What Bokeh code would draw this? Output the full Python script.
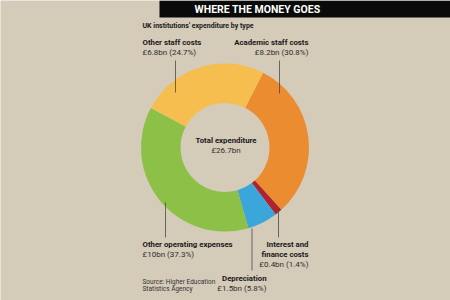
import math
from bokeh.plotting import figure
from bokeh.models import Range1d, ColumnDataSource
from bokeh.core.properties import value
from bokeh.embed import file_html
from bokeh.resources import INLINE

# ---- data ----
categories = ["Academic staff costs", "Interest and finance costs", "Depreciation",
              "Other operating expenses", "Other staff costs"]
amounts_bn = [8.2, 0.4, 1.5, 10.0, 6.8]
percents = [30.8, 1.4, 5.8, 37.3, 24.7]
colors = ["#EB8C30", "#AE2330", "#3BA6DA", "#8CC046", "#F6BE4E"]
total_label = "£26.7bn"

W, H = 450, 300
BG = "#D4CBB9"
FONT = "Roboto"
TXT = "#1A1A1A"
TXT2 = "#2E2E2E"

p = figure(width=W, height=H, x_range=Range1d(0, W), y_range=Range1d(0, H),
           output_backend="svg", toolbar_location=None, min_border=0)
p.axis.visible = False
p.grid.visible = False
p.outline_line_color = None
p.background_fill_color = BG
p.border_fill_color = BG

def sy(y):
    return H - y

# donut
cx, cy = 224.5, sy(147)
r_out, r_in = 84, 44.5
start0 = 63.0  # degrees, first slice boundary
starts, ends = [], []
cum = 0.0
for pc in percents:
    starts.append(math.radians(start0 - cum * 3.6))
    cum += pc
    ends.append(math.radians(start0 - cum * 3.6))
src = ColumnDataSource(dict(start=starts, end=ends, color=colors, cat=categories))
p.annular_wedge(x=cx, y=cy, inner_radius=r_in, outer_radius=r_out,
                start_angle="start", end_angle="end", direction="clock",
                fill_color="color", line_color=None, source=src)

# title bar
p.quad(left=159, right=450, top=sy(0), bottom=sy(17), fill_color="#0A0A0A", line_color=None)
p.text(x=[257], y=[sy(8.5)], text=["WHERE THE MONEY GOES"], text_color="white",
       text_font=value(FONT), text_font_style="bold", text_font_size="10.5px",
       text_align="center", text_baseline="middle")

def label(x, y, s, bold=False, align="left", size="8px", color=TXT):
    p.text(x=[x], y=[sy(y)], text=[s], text_color=color, text_font=value(FONT),
           text_font_style="bold" if bold else "normal", text_font_size=size,
           text_align=align, text_baseline="middle")

def fmt(i):
    a = amounts_bn[i]
    s = ("%g" % a) if a == int(a) else ("%.1f" % a)
    return "£%sbn (%.1f%%)" % (s, percents[i])

label(142, 25, "UK institutions' expenditure by type", bold=True, size="7px")

B = "7.8px"
R = "8px"
# Other staff costs
label(142, 41.5, categories[4], bold=True, size=B)
label(142, 51.5, fmt(4), size=R, color=TXT2)
# Academic staff costs
label(308, 41.5, categories[0], bold=True, align="right", size=B)
label(308, 51.5, fmt(0), align="right", size=R, color=TXT2)
# Other operating expenses
label(142, 243.5, categories[3], bold=True, size=B)
label(142, 253.5, fmt(3), size=R, color=TXT2)
# Interest and finance costs
label(308, 243.5, "Interest and", bold=True, align="right", size=B)
label(308, 253.5, "finance costs", bold=True, align="right", size=B)
label(308, 263.5, fmt(1), align="right", size=R, color=TXT2)
# Depreciation
label(266, 278, categories[2], bold=True, align="right", size=B)
label(266, 287.5, fmt(2), align="right", size=R, color=TXT2)
# Source
label(142, 281.5, "Source: Higher Education", size="6.5px", color="#333333")
label(142, 288.5, "Statistics Agency", size="6.5px", color="#333333")
# Centre
label(cx + 1, 140, "Total expenditure", bold=True, align="center", size=B)
label(cx + 1, 150, total_label, align="center", size=R, color=TXT2)

# leader lines
lc = "#4A4A4A"
p.segment(x0=[175, 279, 165, 251.5, 278], y0=[sy(60), sy(60), sy(202), sy(228), sy(207)],
          x1=[175, 279, 165, 251.5, 278], y1=[sy(92), sy(93), sy(237), sy(270), sy(237)],
          line_color=lc, line_width=0.8)

open("out.html", "w").write(file_html(p, INLINE))
